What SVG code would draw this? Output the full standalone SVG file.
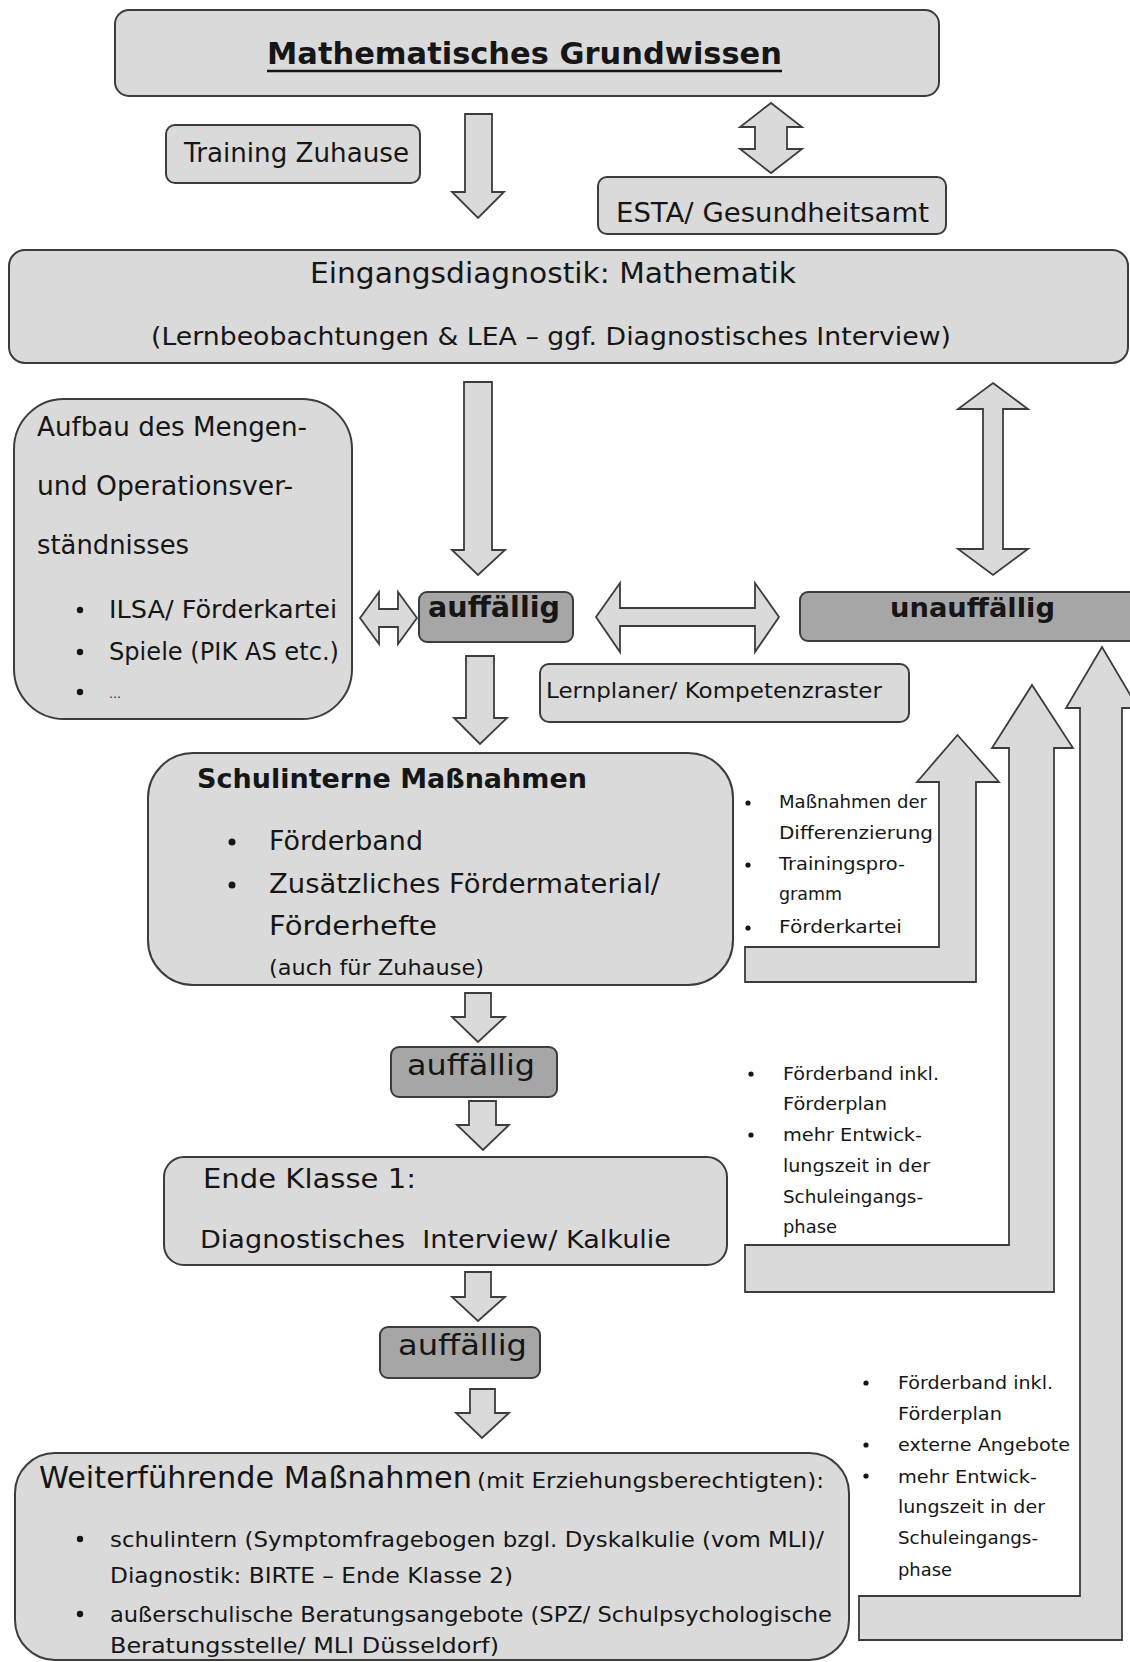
<svg xmlns="http://www.w3.org/2000/svg" width="1130" height="1662" viewBox="0 0 1130 1662">
<style>
.box{fill:#dadada;stroke:#3c3c3c;stroke-width:2}
.dark{fill:#a6a6a6;stroke:#3c3c3c;stroke-width:2}
.arr{fill:#dadada;stroke:#3c3c3c;stroke-width:1.8;stroke-linejoin:miter}
text{font-family:"DejaVu Sans","Liberation Sans",sans-serif;fill:#161616}
.b{font-weight:bold}
.dot{fill:#161616}
</style>
<rect width="1130" height="1662" fill="#ffffff"/>

<g id="connectors">
  <!-- down arrows -->
  <polygon class="arr" points="465,114 492,114 492,192 504,192 478,218 452,192 465,192"/>
  <polygon class="arr" points="464,382 492,382 492,550 505,550 478,575 452,550 464,550"/>
  <polygon class="arr" points="466,656 494,656 494,718 507,718 480,744 454,718 466,718"/>
  <polygon class="arr" points="465,993 491,993 491,1017 505,1017 478,1042 452,1017 465,1017"/>
  <polygon class="arr" points="469,1101 496,1101 496,1125 509,1125 483,1150 457,1125 469,1125"/>
  <polygon class="arr" points="465,1272 491,1272 491,1297 505,1297 478,1321 452,1297 465,1297"/>
  <polygon class="arr" points="470,1389 495,1389 495,1413 509,1413 482,1438 456,1413 470,1413"/>
  <!-- double arrows -->
  <polygon class="arr" points="771,103 802,127 787,127 787,149 802,149 771,173 740,149 755,149 755,127 740,127"/>
  <polygon class="arr" points="993,383 1028,409 1003,409 1003,549 1028,549 993,575 958,549 983,549 983,409 958,409"/>
  <polygon class="arr" points="596,617 620,583 620,608 755,608 755,583 779,617 755,652 755,626 620,626 620,652"/>
  <polygon class="arr" points="360,618 379,592 379,609 398,609 398,592 417,618 398,644 398,627 379,627 379,644"/>
  <!-- bent arrows -->
  <polygon class="arr" points="745,947 939,947 939,782 917,782 957.5,735 999,782 976,782 976,982 745,982"/>
  <polygon class="arr" points="745,1245 1009,1245 1009,748 992,748 1032,685 1073,748 1054,748 1054,1292 745,1292"/>
  <polygon class="arr" points="859,1596 1080,1596 1080,708 1066,708 1102,647 1138,708 1122,708 1122,1640 859,1640"/>
</g>

<g id="grundwissen">
  <rect class="box" x="115" y="10" width="824" height="86" rx="14"/>
  <text class="b" x="267" y="64" font-size="30" textLength="515" lengthAdjust="spacingAndGlyphs">Mathematisches Grundwissen</text>
  <line x1="267" y1="71" x2="782" y2="71" stroke="#161616" stroke-width="2.5"/>
</g>

<g id="training">
  <rect class="box" x="166" y="125" width="254" height="58" rx="9"/>
  <text x="184" y="162" font-size="26" textLength="225" lengthAdjust="spacingAndGlyphs">Training Zuhause</text>
</g>

<g id="esta">
  <rect class="box" x="598" y="177" width="348" height="57" rx="9"/>
  <text x="616" y="222" font-size="26" textLength="313" lengthAdjust="spacingAndGlyphs">ESTA/ Gesundheitsamt</text>
</g>

<g id="eingangsdiagnostik">
  <rect class="box" x="9" y="250" width="1119" height="113" rx="16"/>
  <text x="310" y="283" font-size="28" textLength="486" lengthAdjust="spacingAndGlyphs">Eingangsdiagnostik: Mathematik</text>
  <text x="151" y="345" font-size="25" textLength="800" lengthAdjust="spacingAndGlyphs">(Lernbeobachtungen &amp; LEA – ggf. Diagnostisches Interview)</text>
</g>

<g id="aufbau">
  <rect class="box" x="14" y="399" width="338" height="320" rx="50"/>
  <text x="37" y="436" font-size="26" textLength="270" lengthAdjust="spacingAndGlyphs">Aufbau des Mengen-</text>
  <text x="37" y="495" font-size="26" textLength="256" lengthAdjust="spacingAndGlyphs">und Operationsver-</text>
  <text x="37" y="554" font-size="26" textLength="152" lengthAdjust="spacingAndGlyphs">ständnisses</text>
  <circle class="dot" cx="80" cy="610" r="3.2"/>
  <circle class="dot" cx="80" cy="652" r="3.2"/>
  <circle class="dot" cx="80" cy="692" r="3.2"/>
  <text x="109" y="618" font-size="24" textLength="228" lengthAdjust="spacingAndGlyphs">ILSA/ Förderkartei</text>
  <text x="109" y="660" font-size="24" textLength="230" lengthAdjust="spacingAndGlyphs">Spiele (PIK AS etc.)</text>
  <text x="109" y="698" font-size="12">…</text>
</g>

<g id="auffaellig1">
  <rect class="dark" x="419" y="592" width="154" height="50" rx="8"/>
  <text class="b" x="428" y="617" font-size="28" textLength="132" lengthAdjust="spacingAndGlyphs">auffällig</text>
</g>

<g id="unauffaellig">
  <rect class="dark" x="800" y="592" width="360" height="49" rx="8"/>
  <text class="b" x="890" y="617" font-size="27" textLength="165" lengthAdjust="spacingAndGlyphs">unauffällig</text>
</g>

<g id="lernplaner">
  <rect class="box" x="540" y="664" width="369" height="58" rx="9"/>
  <text x="546" y="698" font-size="22" textLength="336" lengthAdjust="spacingAndGlyphs">Lernplaner/ Kompetenzraster</text>
</g>

<g id="schulinterne">
  <rect class="box" x="148" y="753" width="585" height="232" rx="45"/>
  <text class="b" x="197" y="788" font-size="27" textLength="390" lengthAdjust="spacingAndGlyphs">Schulinterne Maßnahmen</text>
  <circle class="dot" cx="232" cy="842" r="3.5"/>
  <circle class="dot" cx="232" cy="885" r="3.5"/>
  <text x="269" y="850" font-size="26" textLength="154" lengthAdjust="spacingAndGlyphs">Förderband</text>
  <text x="269" y="893" font-size="26" textLength="391" lengthAdjust="spacingAndGlyphs">Zusätzliches Fördermaterial/</text>
  <text x="269" y="935" font-size="26" textLength="168" lengthAdjust="spacingAndGlyphs">Förderhefte</text>
  <text x="269" y="975" font-size="21" textLength="215" lengthAdjust="spacingAndGlyphs">(auch für Zuhause)</text>
</g>

<g id="liste-a">
  <circle class="dot" cx="748" cy="803" r="2.6"/>
  <circle class="dot" cx="748" cy="865" r="2.6"/>
  <circle class="dot" cx="748" cy="928" r="2.6"/>
  <text x="779" y="808" font-size="17" textLength="148" lengthAdjust="spacingAndGlyphs">Maßnahmen der</text>
  <text x="779" y="839" font-size="17" textLength="154" lengthAdjust="spacingAndGlyphs">Differenzierung</text>
  <text x="779" y="870" font-size="17" textLength="126" lengthAdjust="spacingAndGlyphs">Trainingspro-</text>
  <text x="779" y="900" font-size="17" textLength="63" lengthAdjust="spacingAndGlyphs">gramm</text>
  <text x="779" y="933" font-size="17" textLength="123" lengthAdjust="spacingAndGlyphs">Förderkartei</text>
</g>

<g id="auffaellig2">
  <rect class="dark" x="391" y="1047" width="166" height="50" rx="8"/>
  <text x="407" y="1075" font-size="29" textLength="128" lengthAdjust="spacingAndGlyphs">auffällig</text>
</g>

<g id="liste-b">
  <circle class="dot" cx="751" cy="1074" r="2.6"/>
  <circle class="dot" cx="751" cy="1135" r="2.6"/>
  <text x="783" y="1080" font-size="17" textLength="156" lengthAdjust="spacingAndGlyphs">Förderband inkl.</text>
  <text x="783" y="1110" font-size="17" textLength="104" lengthAdjust="spacingAndGlyphs">Förderplan</text>
  <text x="783" y="1141" font-size="17" textLength="139" lengthAdjust="spacingAndGlyphs">mehr Entwick-</text>
  <text x="783" y="1172" font-size="17" textLength="147" lengthAdjust="spacingAndGlyphs">lungszeit in der</text>
  <text x="783" y="1203" font-size="17" textLength="140" lengthAdjust="spacingAndGlyphs">Schuleingangs-</text>
  <text x="783" y="1233" font-size="17" textLength="54" lengthAdjust="spacingAndGlyphs">phase</text>
</g>

<g id="ende-klasse-1">
  <rect class="box" x="164" y="1157" width="563" height="108" rx="20"/>
  <text x="203" y="1188" font-size="27" textLength="213" lengthAdjust="spacingAndGlyphs">Ende Klasse 1:</text>
  <text x="200" y="1248" font-size="24" textLength="471" lengthAdjust="spacingAndGlyphs" xml:space="preserve">Diagnostisches  Interview/ Kalkulie</text>
</g>

<g id="auffaellig3">
  <rect class="dark" x="380" y="1327" width="160" height="51" rx="8"/>
  <text x="398" y="1355" font-size="29" textLength="129" lengthAdjust="spacingAndGlyphs">auffällig</text>
</g>

<g id="liste-c">
  <circle class="dot" cx="866" cy="1383" r="2.6"/>
  <circle class="dot" cx="866" cy="1445" r="2.6"/>
  <circle class="dot" cx="866" cy="1476" r="2.6"/>
  <text x="898" y="1389" font-size="17" textLength="155" lengthAdjust="spacingAndGlyphs">Förderband inkl.</text>
  <text x="898" y="1420" font-size="17" textLength="104" lengthAdjust="spacingAndGlyphs">Förderplan</text>
  <text x="898" y="1451" font-size="17" textLength="172" lengthAdjust="spacingAndGlyphs">externe Angebote</text>
  <text x="898" y="1483" font-size="17" textLength="139" lengthAdjust="spacingAndGlyphs">mehr Entwick-</text>
  <text x="898" y="1513" font-size="17" textLength="147" lengthAdjust="spacingAndGlyphs">lungszeit in der</text>
  <text x="898" y="1544" font-size="17" textLength="140" lengthAdjust="spacingAndGlyphs">Schuleingangs-</text>
  <text x="898" y="1576" font-size="17" textLength="54" lengthAdjust="spacingAndGlyphs">phase</text>
</g>

<g id="weiterfuehrende">
  <rect class="box" x="15" y="1453" width="834" height="207" rx="40"/>
  <text x="39" y="1488" font-size="30" textLength="433" lengthAdjust="spacingAndGlyphs">Weiterführende Maßnahmen</text>
  <text x="477" y="1488" font-size="21" textLength="347" lengthAdjust="spacingAndGlyphs">(mit Erziehungsberechtigten):</text>
  <circle class="dot" cx="80" cy="1539" r="3.2"/>
  <circle class="dot" cx="80" cy="1614" r="3.2"/>
  <text x="110" y="1547" font-size="22" textLength="714" lengthAdjust="spacingAndGlyphs">schulintern (Symptomfragebogen bzgl. Dyskalkulie (vom MLI)/</text>
  <text x="110" y="1583" font-size="22" textLength="403" lengthAdjust="spacingAndGlyphs">Diagnostik: BIRTE – Ende Klasse 2)</text>
  <text x="110" y="1622" font-size="22" textLength="722" lengthAdjust="spacingAndGlyphs">außerschulische Beratungsangebote (SPZ/ Schulpsychologische</text>
  <text x="110" y="1653" font-size="22" textLength="389" lengthAdjust="spacingAndGlyphs">Beratungsstelle/ MLI Düsseldorf)</text>
</g>
</svg>
